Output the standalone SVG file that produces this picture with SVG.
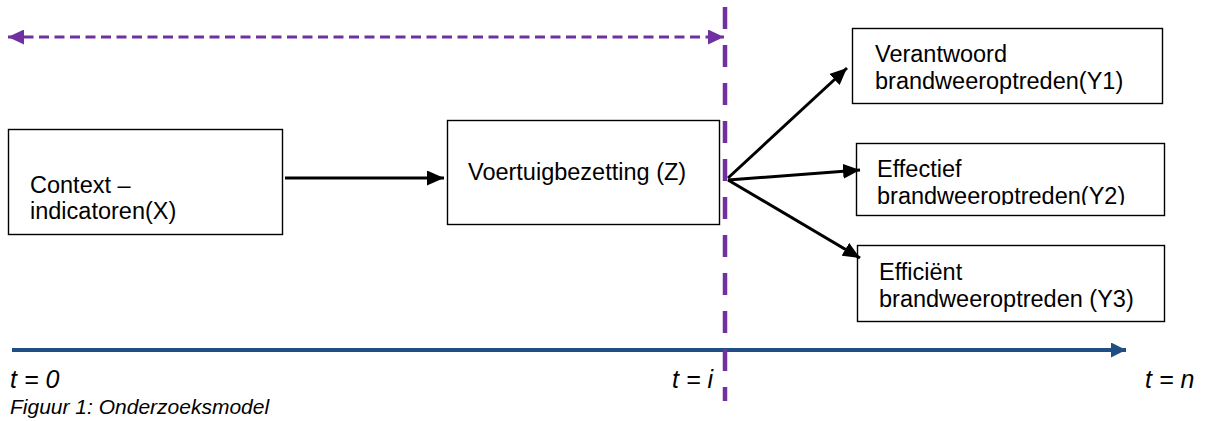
<svg xmlns="http://www.w3.org/2000/svg" width="1205" height="421" viewBox="0 0 1205 421">
<style>
.box{fill:#fff;stroke:#000;stroke-width:1.4}
.t{font-family:"Liberation Sans",Arial,sans-serif;font-size:23.5px;fill:#000}
.it{font-family:"Liberation Sans",Arial,sans-serif;font-style:italic;fill:#000}
.conn{stroke:#000;stroke-width:3;fill:none}
</style>
<defs>
<marker id="ah" viewBox="0 0 17 15" refX="17" refY="7.5" markerWidth="17" markerHeight="15" markerUnits="userSpaceOnUse" orient="auto">
<path d="M0,0 L17,7.5 L0,15 Z" fill="#000"/>
</marker>
<marker id="ap" viewBox="0 0 16 15" refX="16" refY="7.5" markerWidth="16" markerHeight="15" markerUnits="userSpaceOnUse" orient="auto-start-reverse">
<path d="M0,0 L16,7.5 L0,15 Z" fill="#7030A0"/>
</marker>
<marker id="ab" viewBox="0 0 15 15" refX="15" refY="7.5" markerWidth="15" markerHeight="15" markerUnits="userSpaceOnUse" orient="auto">
<path d="M0,0 L15,7.5 L0,15 Z" fill="#1F4E85"/>
</marker>
<clipPath id="c2"><rect x="856" y="143" width="308" height="62"/></clipPath>
</defs>

<g id="timeline">
<line x1="12" y1="350" x2="1126" y2="350" stroke="#1F4E85" stroke-width="4" marker-end="url(#ab)"/>
<text class="it" x="10" y="388" font-size="25">t = 0</text>
<text class="it" x="672" y="388" font-size="25">t = i</text>
<text class="it" x="1145" y="388" font-size="25">t = n</text>
</g>

<g id="caption">
<text class="it" x="10" y="414" font-size="21">Figuur 1: Onderzoeksmodel</text>
</g>

<g id="period">
<line x1="8" y1="37" x2="724" y2="37" stroke="#7030A0" stroke-width="3" stroke-dasharray="10 5.5" marker-start="url(#ap)" marker-end="url(#ap)"/>
</g>

<g id="node-context">
<rect class="box" x="8.5" y="129.5" width="274" height="105"/>
<text class="t" x="30" y="193">Context –</text>
<text class="t" x="30" y="219">indicatoren(X)</text>
</g>

<g id="node-voertuig">
<rect class="box" x="447.5" y="120.5" width="272" height="104"/>
<text class="t" x="468" y="180">Voertuigbezetting (Z)</text>
</g>

<g id="divider">
<line x1="725" y1="7" x2="725" y2="401" stroke="#7030A0" stroke-width="4.5" stroke-dasharray="22 16"/>
</g>

<g id="node-y1">
<rect class="box" x="852.5" y="28.5" width="310" height="75"/>
<text class="t" x="875" y="62">Verantwoord</text>
<text class="t" x="875" y="89">brandweeroptreden(Y1)</text>
</g>

<g id="node-y2">
<rect class="box" x="856.5" y="143.5" width="308" height="72"/>
<g clip-path="url(#c2)">
<text class="t" x="877" y="177">Effectief</text>
<text class="t" x="877" y="204">brandweeroptreden(Y2)</text>
</g>
</g>

<g id="node-y3">
<rect class="box" x="857.5" y="245.5" width="307" height="76"/>
<text class="t" x="879" y="280">Efficiënt</text>
<text class="t" x="879" y="307">brandweeroptreden (Y3)</text>
</g>

<g id="connectors">
<line class="conn" x1="285" y1="178" x2="444" y2="178" marker-end="url(#ah)"/>
<line class="conn" x1="728" y1="178" x2="847" y2="68" marker-end="url(#ah)"/>
<line class="conn" x1="728" y1="180" x2="860" y2="170" marker-end="url(#ah)"/>
<line class="conn" x1="728" y1="180" x2="860" y2="258" marker-end="url(#ah)"/>
</g>
</svg>
